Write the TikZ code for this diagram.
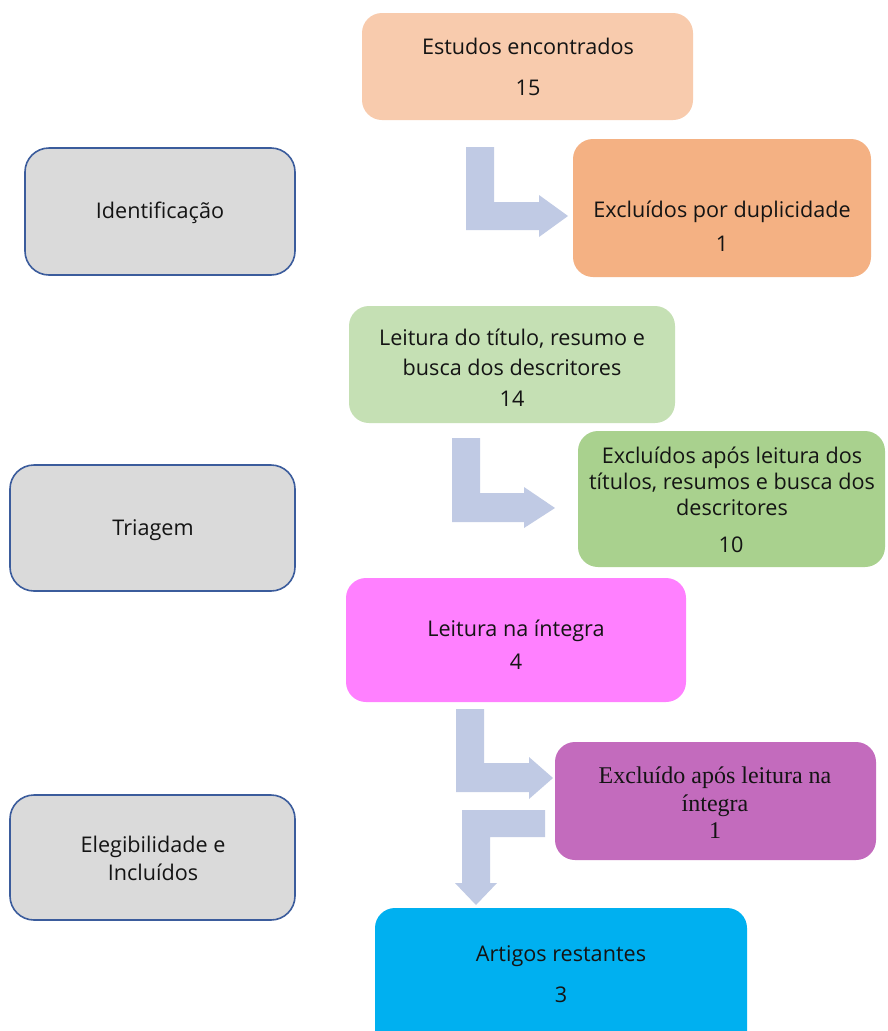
\documentclass[tikz,border=0pt]{standalone}
\usepackage{fontspec}
\setmainfont{Open Sans}
\newfontfamily\tnr{Liberation Serif}
\definecolor{cpeach}{HTML}{F8CBAD}
\definecolor{corange}{HTML}{F4B183}
\definecolor{cgray}{HTML}{DADADA}
\definecolor{cgborder}{HTML}{3B5C9C}
\definecolor{clgreen}{HTML}{C5E0B4}
\definecolor{cgreen}{HTML}{A9D18E}
\definecolor{cpink}{HTML}{FF80FF}
\definecolor{cpurple}{HTML}{C36BBD}
\definecolor{ccyan}{HTML}{00B0F0}
\definecolor{carrow}{HTML}{C0CAE4}
\definecolor{ctext}{HTML}{141414}
\begin{document}
\begin{tikzpicture}[x=1pt,y=-1pt,
  box/.style={rounded corners=20pt, draw=none},
  phase/.style={rounded corners=24pt, draw=cgborder, line width=1.6pt, fill=cgray},
  txt/.style={text=ctext, align=center, inner sep=0pt, font=\fontsize{21.6}{28}\selectfont},
  serif/.style={text=ctext, align=center, inner sep=0pt, font=\tnr\fontsize{24}{27.5}\selectfont},
  blockarrow/.style={fill=carrow, draw=none}]
\useasboundingbox (0,0) rectangle (887,1031);
\fill[white] (0,0) rectangle (887,1031);

% phase boxes
\draw[phase] (25,148) rectangle (295,275);
\node[txt] (idt) at (160,213) {Identificação};
\draw[phase] (10,465) rectangle (295,591);
\node[txt] (tri) at (153,530) {Triagem};
\draw[phase] (10,795) rectangle (295,920);
\node[txt] (ele) at (153,858) {Elegibilidade e\\Incluídos};

% flow boxes
\fill[box, fill=cpeach] (362,13) rectangle (693,120);
\node[txt, font=\fontsize{21.6}{41}\selectfont] (b1) at (528,67) {Estudos encontrados\\15};

\fill[box, fill=corange] (573,139) rectangle (871,277);
\node[txt, font=\fontsize{21.6}{34}\selectfont] (b2) at (722,226) {Excluídos por duplicidade\\1};

\fill[box, fill=clgreen] (349,306) rectangle (675,423);
\node[txt, font=\fontsize{21.6}{30}\selectfont] (b3) at (512,352) {Leitura do título, resumo e\\busca dos descritores};
\node[txt] (b3n) at (512,399) {14};

\fill[box, fill=cgreen] (578,431) rectangle (885,567);
\node[txt, font=\fontsize{21.6}{26}\selectfont] (b4) at (732,481) {Excluídos após leitura dos\\títulos, resumos e busca dos\\descritores};
\node[txt] (b4n) at (731,545) {10};

\fill[box, fill=cpink] (346,578) rectangle (686,702);
\node[txt, font=\fontsize{21.6}{33}\selectfont] (b5) at (516,645) {Leitura na íntegra\\4};

\fill[box, fill=cpurple] (555,742) rectangle (876,860);
\node[serif] (b6) at (715,803) {Excluído após leitura na\\íntegra\\1};

\fill[box, fill=ccyan] (375,908) rectangle (747,1060);
\node[txt, font=\fontsize{21.6}{41}\selectfont] (b7) at (561,974) {Artigos restantes\\3};

% block arrows
\fill[blockarrow] (466,147) -- (494,147) -- (494,202) -- (539,202) -- (539,195) -- (568,216) -- (539,237) -- (539,230) -- (466,230) -- cycle;
\fill[blockarrow] (452,438) -- (480,438) -- (480,493) -- (524,493) -- (524,487) -- (555,508) -- (524,528) -- (524,522) -- (452,522) -- cycle;
\fill[blockarrow] (456,709) -- (484,709) -- (484,763) -- (529,763) -- (529,757) -- (553,778) -- (529,799) -- (529,792) -- (456,792) -- cycle;
\fill[blockarrow] (545,810) -- (545,837) -- (490,837) -- (490,883) -- (497,883) -- (476,905) -- (455,883) -- (462,883) -- (462,810) -- cycle;
\end{tikzpicture}
\end{document}
